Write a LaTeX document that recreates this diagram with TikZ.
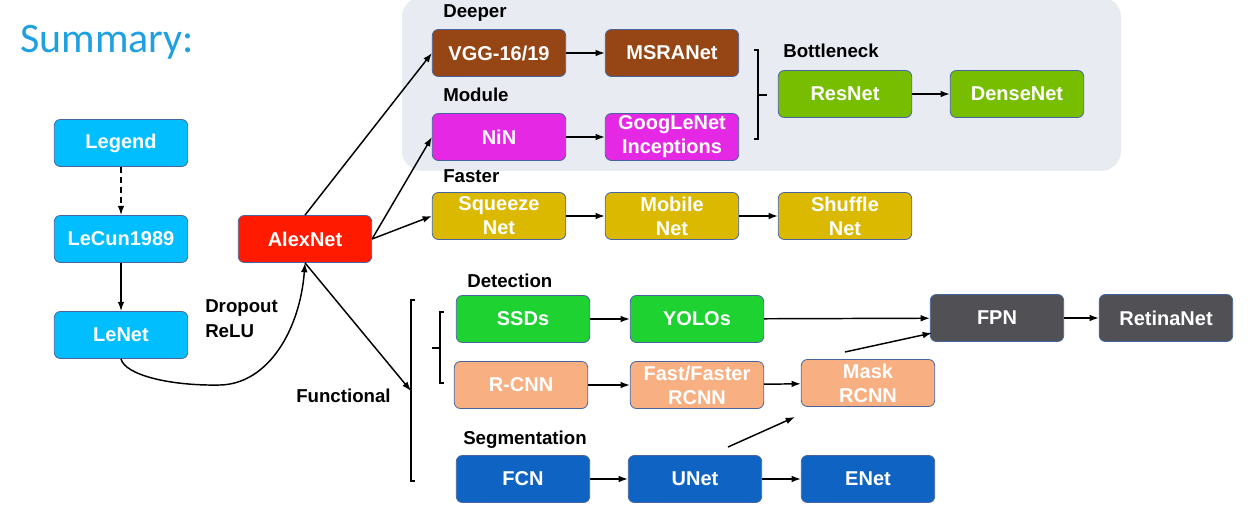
\documentclass[tikz,border=0pt]{standalone}
\usepackage{fontspec}
\setmainfont{Liberation Sans}
\newfontfamily\summaryfont{Carlito}
\usepackage{tikz}
\usetikzlibrary{calc,arrows.meta}

\definecolor{titleblue}{RGB}{30,160,225}
\definecolor{panelgray}{RGB}{232,235,242}
\definecolor{boxedge}{RGB}{70,100,160}
\definecolor{cyanbox}{RGB}{0,190,255}
\definecolor{redbox}{RGB}{255,26,0}
\definecolor{brownbox}{RGB}{150,70,20}
\definecolor{magentabox}{RGB}{228,40,228}
\definecolor{goldbox}{RGB}{218,185,0}
\definecolor{limebox}{RGB}{120,190,0}
\definecolor{greenbox}{RGB}{30,210,50}
\definecolor{peachbox}{RGB}{248,175,130}
\definecolor{darkbox}{RGB}{80,80,85}
\definecolor{navybox}{RGB}{15,100,195}

\tikzset{
  netbox/.style={draw=boxedge, line width=0.6pt, rounded corners=4.5pt, text=white,
    minimum width=100pt, minimum height=35.25pt, inner sep=1pt, align=center,
    font=\bfseries\fontsize{15}{18}\selectfont},
  grouplabel/.style={anchor=base west, inner sep=0pt, align=left,
    font=\bfseries\fontsize{14}{18.75}\selectfont},
  flow/.style={-{Latex[length=7pt,width=5pt]}, line width=1.1pt},
  brace/.style={line width=0.8pt}
}

\begin{document}
\begin{tikzpicture}[x=0.75pt,y=0.75pt,yscale=-1,xscale=1]
\useasboundingbox (0,0) rectangle (1248,513);

%Rounded Rect [panel]
\fill[panelgray, rounded corners=15pt] (402,-3) rectangle (1121,171);

% Text Node
\node[anchor=base west, inner sep=0pt, text=titleblue, font=\summaryfont\fontsize{31.5}{36}\selectfont] (summary) at (20,53) {Summary:};

% Text Node
\node[netbox, fill=cyanbox] (legend) at (121,143) {Legend};
% Text Node
\node[netbox, fill=cyanbox] (lecun) at (121,239) {LeCun1989};
% Text Node
\node[netbox, fill=cyanbox] (lenet) at (121,335) {LeNet};
% Text Node
\node[netbox, fill=redbox] (alexnet) at (305,239) {AlexNet};

% Text Node
\node[netbox, fill=brownbox] (vgg) at (499,53) {VGG-16/19};
% Text Node
\node[netbox, fill=brownbox] (msranet) at (672,53) {MSRANet};
% Text Node
\node[netbox, fill=magentabox] (nin) at (499,137) {NiN};
% Text Node
\node[netbox, fill=magentabox] (googlenet) at (672,137) {GoogLeNet\\Inceptions};
% Text Node
\node[netbox, fill=limebox] (resnet) at (845,94) {ResNet};
% Text Node
\node[netbox, fill=limebox] (densenet) at (1017,94) {DenseNet};
% Text Node
\node[netbox, fill=goldbox] (squeezenet) at (499,216) {Squeeze\\Net};
% Text Node
\node[netbox, fill=goldbox] (mobilenet) at (672,216) {Mobile\\Net};
% Text Node
\node[netbox, fill=goldbox] (shufflenet) at (845,216) {Shuffle\\Net};

% Text Node
\node[netbox, fill=greenbox] (ssds) at (523,319) {SSDs};
% Text Node
\node[netbox, fill=greenbox] (yolos) at (697,319) {YOLOs};
% Text Node
\node[netbox, fill=peachbox] (rcnn) at (521,385) {R-CNN};
% Text Node
\node[netbox, fill=peachbox] (fastrcnn) at (697,385) {Fast/Faster\\RCNN};
% Text Node
\node[netbox, fill=peachbox] (maskrcnn) at (868,383) {Mask\\RCNN};
% Text Node
\node[netbox, fill=darkbox] (fpn) at (997,318) {FPN};
% Text Node
\node[netbox, fill=darkbox] (retinanet) at (1166,318) {RetinaNet};
% Text Node
\node[netbox, fill=navybox] (fcn) at (523,479) {FCN};
% Text Node
\node[netbox, fill=navybox] (unet) at (695,479) {UNet};
% Text Node
\node[netbox, fill=navybox] (enet) at (868,479) {ENet};

% Text Node
\node[grouplabel] (deeper) at (443,18) {Deeper};
% Text Node
\node[grouplabel] (module) at (443,102) {Module};
% Text Node
\node[grouplabel] (faster) at (443,183) {Faster};
% Text Node
\node[grouplabel] (bottleneck) at (783,58) {Bottleneck};
% Text Node
\node[grouplabel] (detection) at (467,287) {Detection};
% Text Node
\node[grouplabel] (segmentation) at (463,444) {Segmentation};
% Text Node
\node[grouplabel] (functional) at (296,402) {Functional};
% Text Node
\node[grouplabel] (dropout) at (205,337) {Dropout\\ReLU};

%Brackets
\draw[brace] (754,50) -- (758,50) -- (758,139) -- (754,139);
\draw[brace] (758,95) -- (767,95);
\draw[brace] (415,300) -- (411,300) -- (411,481) -- (415,481);
\draw[brace] (444,312) -- (440,312) -- (440,383) -- (444,383);
\draw[brace] (440,348) -- (432,348);

%Free ends
\coordinate (funcend) at (411,391);
\coordinate (unetfrom) at (728,447);
\coordinate (unetto) at (795,417);
\coordinate (maskfrom) at (845,352);
\coordinate (maskto) at (932,333);

%Straight Lines
\draw[flow, dash pattern=on 4.5pt off 3pt] (legend) -- (lecun);
\draw[flow] (lecun) -- (lenet);
\draw[flow] (lenet.south) .. controls (125,375) and (170,386) .. (220,385) .. controls (268,384) and (300,330) .. (alexnet.south);
\draw[flow] (alexnet.south) -- (funcend);
\draw[flow] (alexnet.north) -- (vgg.west);
\draw[flow] (alexnet.east) -- (nin.west);
\draw[flow] (alexnet.east) -- (squeezenet.west);
\draw[flow] (vgg) -- (msranet);
\draw[flow] (nin) -- (googlenet);
\draw[flow] (resnet) -- (densenet);
\draw[flow] (squeezenet) -- (mobilenet);
\draw[flow] (mobilenet) -- (shufflenet);
\draw[flow] (ssds) -- (yolos);
\draw[flow] (yolos) -- (fpn);
\draw[flow] (rcnn) -- (fastrcnn);
\draw[flow] (fastrcnn) -- (maskrcnn);
\draw[flow] (fpn) -- (retinanet);
\draw[flow] (fcn) -- (unet);
\draw[flow] (unet) -- (enet);
\draw[flow] (unetfrom) -- (unetto);
\draw[flow] (maskfrom) -- (maskto);

\end{tikzpicture}
\end{document}
